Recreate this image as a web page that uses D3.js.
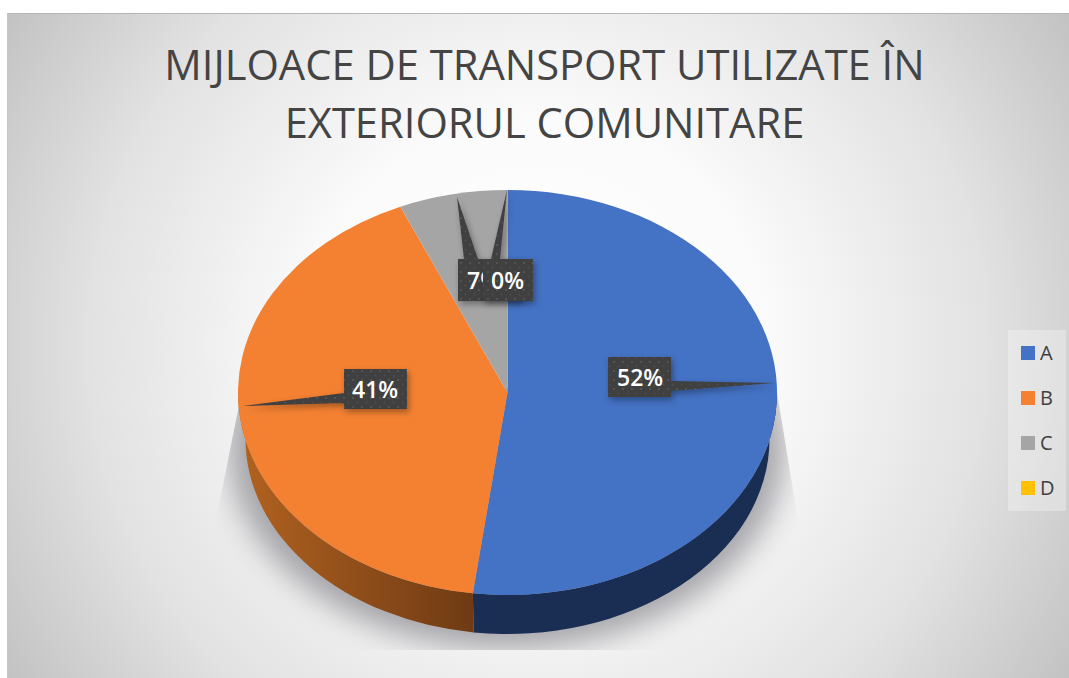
<!DOCTYPE html>
<html><head><meta charset="utf-8">
<script src="https://cdn.jsdelivr.net/npm/d3@7/dist/d3.min.js"></script>
<style>html,body{margin:0;padding:0;background:#fff}svg{display:block}</style>
</head><body><div id="c"></div>
<script>
const categories = ["A","B","C","D"];
const seriesValues = [52,41.4,6.5,0];
const seriesColors = ["#4472C4","#F48132","#A5A5A5","#FFC000"];
const titleLines = ["MIJLOACE DE TRANSPORT UTILIZATE ÎN","EXTERIORUL COMUNITARE"];

const W=1069,H=678;
const svg=d3.select("#c").append("svg").attr("width",W).attr("height",H);
const defs=svg.append("defs");
const bg=defs.append("radialGradient").attr("id","bg").attr("gradientUnits","userSpaceOnUse")
  .attr("cx",538).attr("cy",345).attr("r",640);
[[0,"#ffffff"],[0.35,"#fbfbfb"],[0.7,"#e2e2e2"],[1,"#c0c0c0"]].forEach(s=>bg.append("stop").attr("offset",s[0]).attr("stop-color",s[1]));
const side=defs.append("linearGradient").attr("id","sideB").attr("gradientUnits","userSpaceOnUse")
  .attr("x1",245).attr("x2",476).attr("y1",0).attr("y2",0);
side.append("stop").attr("offset",0).attr("stop-color","#B0611F");
side.append("stop").attr("offset",1).attr("stop-color","#6E3A14");
const pat=defs.append("pattern").attr("id","dots").attr("width",9).attr("height",9).attr("patternUnits","userSpaceOnUse");
pat.append("rect").attr("width",9).attr("height",9).attr("fill","#3f3f3f");
pat.append("circle").attr("cx",2).attr("cy",2).attr("r",0.9).attr("fill","#5c5c5c");
pat.append("circle").attr("cx",6.5).attr("cy",6.5).attr("r",0.9).attr("fill","#4f4f4f");
const blur=defs.append("filter").attr("id","blur").attr("x","-20%").attr("y","-20%").attr("width","140%").attr("height","140%");
blur.append("feGaussianBlur").attr("stdDeviation",15);
const ds=defs.append("filter").attr("id","ds").attr("x","-30%").attr("y","-30%").attr("width","170%").attr("height","170%");
ds.append("feDropShadow").attr("dx",2).attr("dy",3).attr("stdDeviation",3).attr("flood-color","#000").attr("flood-opacity",0.35);
defs.append("clipPath").attr("id","shadowClip").append("polygon")
  .attr("points","241,395 216,520 216,650 798,650 798,520 775,380");

svg.append("rect").attr("x",7).attr("y",13).attr("width",W-7).attr("height",H-13).attr("fill","url(#bg)");
svg.append("line").attr("x1",7).attr("x2",W).attr("y1",13.5).attr("y2",13.5).attr("stroke","#b5b5b5");
svg.append("line").attr("x1",7.5).attr("x2",7.5).attr("y1",13).attr("y2",H).attr("stroke","#c4c4c4");

// title
const title=svg.append("g").attr("font-family","'Open Sans','Noto Sans',sans-serif").attr("font-weight",400)
  .attr("fill","#444").attr("font-size",41.7).attr("text-anchor","middle");
title.selectAll("text").data(titleLines).join("text").attr("x",544.5).attr("y",(d,i)=>80+i*58).text(d=>d);

// geometry of the tilted disc
const top_={cx:507.5,cy:392.5,rx:269.5,ry:202.5};
const bot={cx:507.5,cy:439,rx:262,ry:195};
const pt=(e,a)=>[e.cx+e.rx*Math.sin(a),e.cy-e.ry*Math.cos(a)];
const pie=d3.pie().sort(null).value(d=>d)(seriesValues);
const total=d3.sum(seriesValues);
const fmt=v=>d3.format(".0f")(v/total*100)+"%";

// shadow
svg.append("g").attr("clip-path","url(#shadowClip)").append("ellipse")
  .attr("cx",507).attr("cy",447).attr("rx",278).attr("ry",202)
  .attr("fill","#85858c").attr("opacity",.72).attr("filter","url(#blur)");

// side wall
const sideCols=["#1A2D52","url(#sideB)","#666","#997300"];
const gSide=svg.append("g");
pie.forEach((p,i)=>{
  const a0=Math.max(p.startAngle,Math.PI/2),a1=Math.min(p.endAngle,Math.PI*1.5);
  if(a1<=a0) return;
  const t0=pt(top_,a0),t1=pt(top_,a1),b0=pt(bot,a0),b1=pt(bot,a1);
  gSide.append("path").attr("fill",sideCols[i])
    .attr("d",`M${t0}L${b0}A${bot.rx},${bot.ry} 0 0 1 ${b1}L${t1}A${top_.rx},${top_.ry} 0 0 0 ${t0}Z`);
});

// top face
const arc=d3.arc().innerRadius(0).outerRadius(top_.rx);
svg.append("g").attr("transform",`translate(${top_.cx},${top_.cy}) scale(1,${top_.ry/top_.rx})`)
  .selectAll("path").data(pie).join("path").attr("d",arc).attr("fill",(d,i)=>seriesColors[i]);

// data callouts: box + pointer to rim
const callouts=[
 {i:2,box:[458,259,63,42],tail:[[464,259],[457,197],[478,259]],tx:467},
 {i:3,box:[483,259,50,42],tail:[[491,259],[507,190],[500,259]],tx:491},
 {i:0,box:[608,357,63,40],tail:[[671,381],[774,383],[671,391]],tx:617},
 {i:1,box:[344,369,63,40],tail:[[344,393],[243,406],[344,403]],tx:352}
];
callouts.forEach(c=>{
  const g=svg.append("g");
  const b=c.box;
  g.append("path").attr("filter","url(#ds)").attr("fill","url(#dots)")
   .attr("d",`M${b[0]},${b[1]}h${b[2]}v${b[3]}h${-b[2]}Z M${c.tail.join("L")}Z`);
  g.append("text").attr("x",c.tx).attr("y",b[1]+b[3]/2+8.5).attr("fill","#fff")
   .attr("font-family","'Open Sans',sans-serif").attr("font-weight",600).attr("font-size",23)
   .text(fmt(seriesValues[c.i]));
});

// legend
svg.append("rect").attr("x",1008).attr("y",330).attr("width",58).attr("height",181).attr("fill","#fff").attr("opacity",.3);
const leg=d3.scalePoint().domain(categories).range([353,488]);
const lg=svg.append("g").selectAll("g").data(categories).join("g").attr("transform",d=>`translate(1021,${leg(d)})`);
lg.append("rect").attr("y",-7).attr("width",14).attr("height",14).attr("fill",(d,i)=>seriesColors[i]);
lg.append("text").attr("x",19).attr("y",7).attr("font-family","'Open Sans',sans-serif").attr("font-size",20).attr("fill","#404040").text(d=>d);
</script></body></html>
